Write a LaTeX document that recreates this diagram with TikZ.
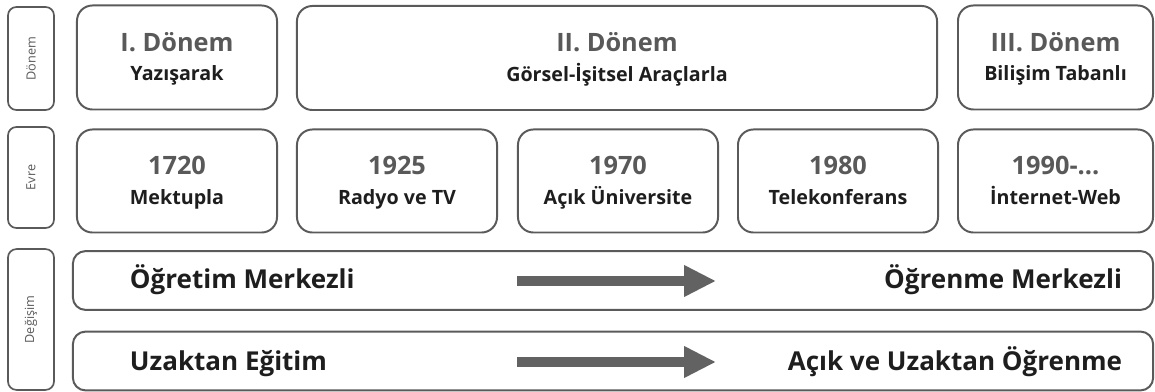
\documentclass[tikz,border=0pt]{standalone}
\usepackage{fontspec}
\setmainfont{Open Sans}
\usetikzlibrary{arrows.meta, positioning}
\definecolor{cizgi}{HTML}{5A5A5A}
\definecolor{koyu}{HTML}{595959}
\definecolor{yazi}{HTML}{1E1E1E}
\newcommand{\dikme}{\rule[-4pt]{0pt}{20pt}}
\newcommand{\ustsatir}[1]{{\color{koyu}\fontsize{18}{20}\selectfont\bfseries\dikme #1}}
\newcommand{\altsatir}[1]{{\color{yazi}\fontsize{14}{20}\selectfont\bfseries\dikme #1}}
\tikzset{
  kutu/.style={
    draw=cizgi, line width=1.4pt, rounded corners=11pt, fill=white,
    align=center, inner sep=0pt, minimum height=2.6cm
  },
  etiket/.style={
    draw=cizgi, line width=1.2pt, rounded corners=6pt, fill=white,
    rotate=90, minimum height=1.15cm, inner sep=1pt,
    font=\fontsize{9}{10}\selectfont, text=koyu
  },
  serit/.style={
    draw=cizgi, line width=1.4pt, rounded corners=9pt, fill=white,
    minimum width=27cm, minimum height=1.47cm
  },
  yazisol/.style={anchor=base west, font=\fontsize{18.5}{22}\selectfont\bfseries, text=yazi},
  yazisag/.style={anchor=base east, font=\fontsize{18.5}{22}\selectfont\bfseries, text=yazi},
  ok/.style={-{Triangle[length=0.8cm, width=0.74cm]}, line width=0.23cm, draw=cizgi!95!white}
}

\begin{document}
\begin{tikzpicture}[x=0.025cm, y=-0.025cm]

\useasboundingbox (0,0) rectangle (1155,392);

% =================================================
% SOL ETIKETLER
% =================================================

\node[etiket, minimum width=2.575cm] (lDonem) at (31,58.5) {Dönem};
\node[etiket, minimum width=2.525cm] (lEvre) at (31,177.5) {Evre};
\node[etiket, minimum width=3.52cm] (lDegisim) at (31,319.5) {Değişim};

% =================================================
% DONEMLER
% =================================================

\node[kutu, minimum width=5cm] (d1) at (177,57.5)
{\ustsatir{I. Dönem}\\\altsatir{Yazışarak}};

\node[kutu, minimum width=16cm] (d2) at (617,58)
{\ustsatir{II. Dönem}\\\altsatir{Görsel-İşitsel Araçlarla}};

\node[kutu, minimum width=4.875cm] (d3) at (1055.5,57.5)
{\ustsatir{III. Dönem}\\\altsatir{Bilişim Tabanlı}};

% =================================================
% EVRELER
% =================================================

\node[kutu, minimum width=5cm, minimum height=2.575cm] (e1) at (177,181)
{\ustsatir{1720}\\\altsatir{Mektupla}};

\node[kutu, minimum width=5cm, minimum height=2.575cm] (e2) at (397,181)
{\ustsatir{1925}\\\altsatir{Radyo ve TV}};

\node[kutu, minimum width=5cm, minimum height=2.575cm] (e3) at (618,181)
{\ustsatir{1970}\\\altsatir{Açık Üniversite}};

\node[kutu, minimum width=5cm, minimum height=2.575cm] (e4) at (838,181)
{\ustsatir{1980}\\\altsatir{Telekonferans}};

\node[kutu, minimum width=4.875cm, minimum height=2.575cm] (e5) at (1055.5,181)
{\ustsatir{1990-...}\\\altsatir{İnternet-Web}};

% =================================================
% DEGISIM
% =================================================

\node[serit] (s1) at (613,280.5) {};
\node[serit] (s2) at (613,361) {};

\node[yazisol] (t1a) at (125,289) {Öğretim Merkezli};
\node[yazisag] (t1b) at (1127,289) {Öğrenme Merkezli};
\node[yazisol] (t2a) at (125,370) {Uzaktan Eğitim};
\node[yazisag] (t2b) at (1127,370) {Açık ve Uzaktan Öğrenme};

% Oklar
\coordinate (o1a) at (517,281);
\coordinate (o1b) at (716,281);
\coordinate (o2a) at (517,362);
\coordinate (o2b) at (716,362);

\draw[ok] (o1a) -- (o1b);
\draw[ok] (o2a) -- (o2b);

\end{tikzpicture}
\end{document}
